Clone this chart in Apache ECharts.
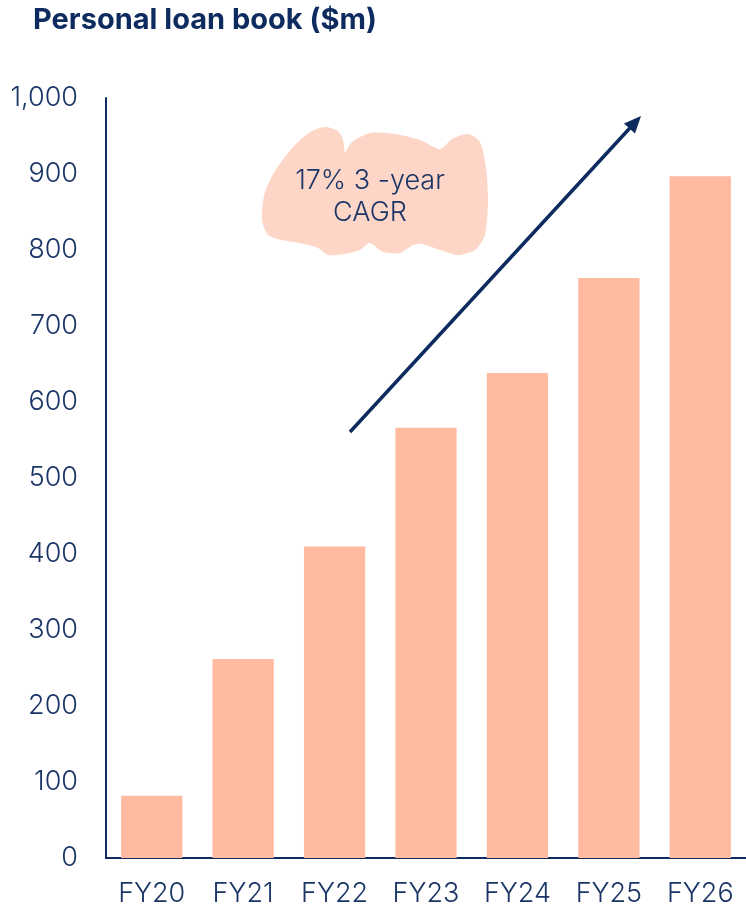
<!DOCTYPE html>
<html><head><meta charset="utf-8">
<script src="https://cdn.jsdelivr.net/npm/echarts@6/dist/echarts.min.js"></script>
<style>html,body{margin:0;padding:0;background:#fff}#c{width:746px;height:911px}</style>
</head><body><div id="c"></div>
<script>
const categories = ['FY20','FY21','FY22','FY23','FY24','FY25','FY26'];
const loanBook = [82, 262, 410, 566, 638, 763, 897];
const yTicks = [0, 100, 200, 300, 400, 500, 600, 700, 800, 900, 1000];
const titleText = 'Personal loan book ($m)';
const noteText = '17% 3 -year\nCAGR';

const navy = '#0d2b5e';
const txt = '#1a3566';
const font = 'Inter';
const chart = echarts.init(document.getElementById('c'), null, {renderer: 'canvas'});

// arrow geometry (annotation)
const tip = [641, 116], tail = [350, 432];
const dx = tip[0]-tail[0], dy = tip[1]-tail[1], L = Math.hypot(dx, dy);
const ux = dx/L, uy = dy/L, hl = 17, hw = 7.5;
const bx = tip[0]-hl*ux, by = tip[1]-hl*uy;

const blob = [[262,220],[264,196],[272,176],[284,158],[298,142],[312,131],[325,127],[338,131],[343,140],[345,152],[352,142],[370,133],[395,134],[420,140],[440,149],[452,139],[468,134],[480,142],[486,168],[488,201],[485,235],[475,250],[458,255],[440,250],[422,244],[413,245],[400,253],[383,252],[370,243],[360,250],[345,254],[328,255],[318,248],[300,243],[282,240],[268,235]];

chart.setOption({
  animation: false,
  title: {text: titleText, left: 28, top: 1,
    textStyle: {fontFamily: font, fontWeight: 'bold', fontSize: 29, color: navy}},
  grid: {left: 106, right: 0, top: 98, bottom: 53, containLabel: false},
  xAxis: {type: 'category', data: categories,
    axisLine: {show: true, lineStyle: {color: navy, width: 2}},
    axisTick: {show: false},
    axisLabel: {fontFamily: font, fontWeight: 300, fontSize: 27, color: txt, margin: 22}},
  yAxis: {type: 'value', min: 0, max: 1000, interval: 100,
    axisLine: {show: true, lineStyle: {color: navy, width: 2}},
    axisTick: {show: false}, splitLine: {show: false},
    axisLabel: {fontFamily: font, fontWeight: 300, fontSize: 27, color: txt, margin: 28,
      formatter: v => yTicks.includes(v) ? v.toLocaleString('en-US') : ''}},
  series: [{type: 'bar', data: loanBook, barWidth: '67%',
    itemStyle: {color: '#FFBAA0'}}],
  graphic: [
    {type: 'polygon', z: 1, shape: {points: blob, smooth: 0.25},
      style: {fill: '#FDD6C8'}},
    {type: 'text', z: 2, x: 370, y: 197,
      style: {text: noteText, fontFamily: font, fontWeight: 300, fontSize: 27, fill: txt,
        align: 'center', verticalAlign: 'middle', lineHeight: 32}},
    {type: 'line', z: 3, shape: {x1: tail[0], y1: tail[1], x2: bx+2*ux, y2: by+2*uy},
      style: {stroke: navy, lineWidth: 3.5}},
    {type: 'polygon', z: 3,
      shape: {points: [tip, [bx + hw*(-uy), by + hw*ux], [bx - hw*(-uy), by - hw*ux]]},
      style: {fill: navy}}
  ]
});
</script></body></html>
